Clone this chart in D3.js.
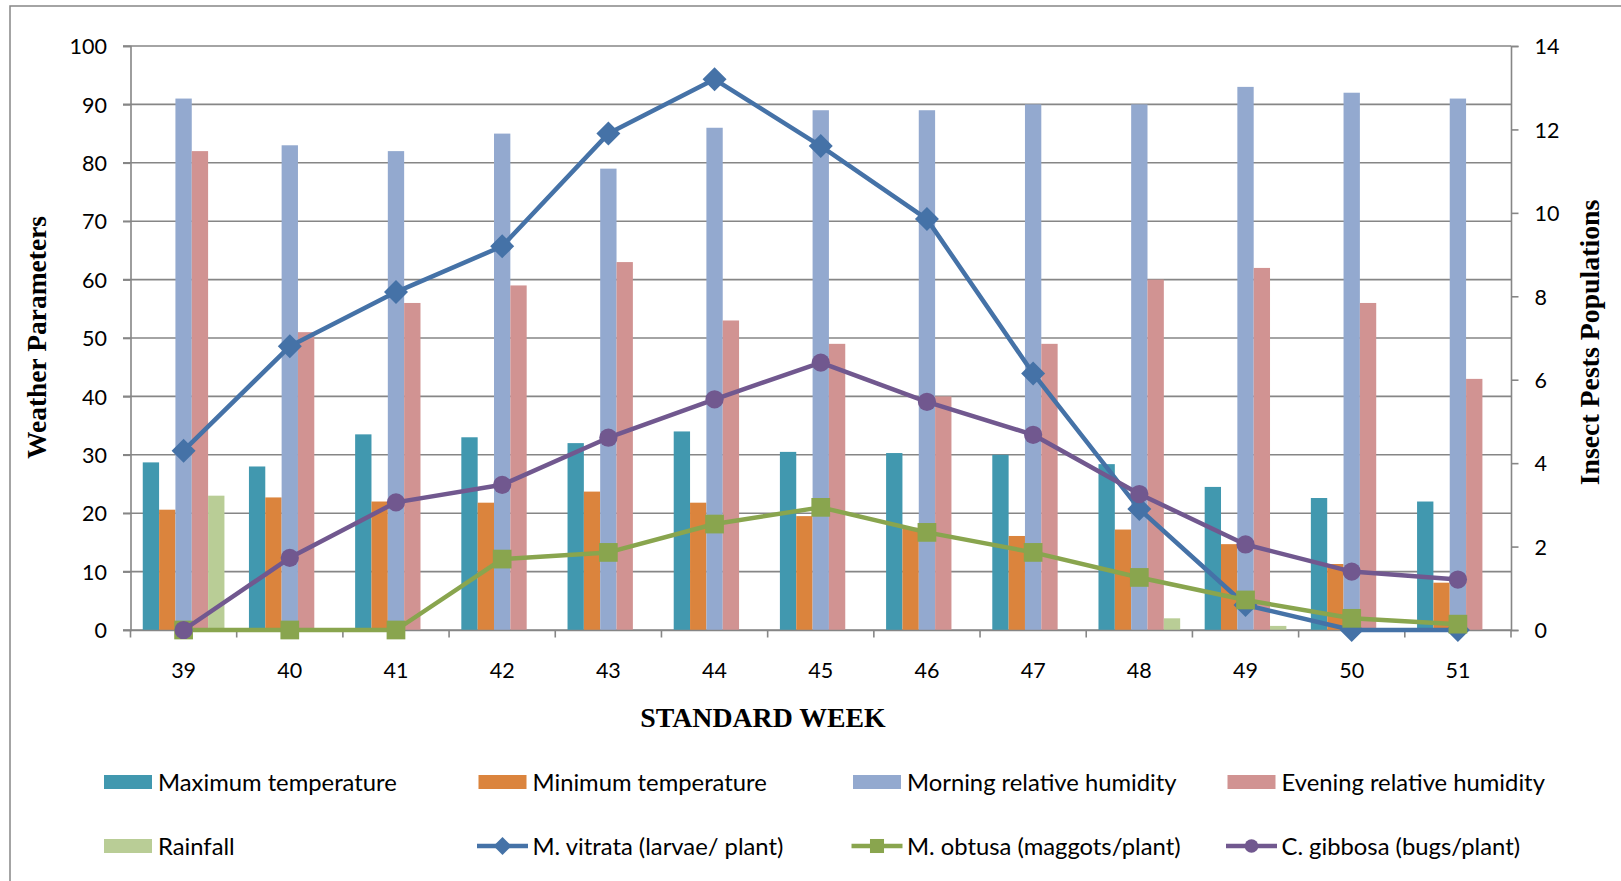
<!DOCTYPE html>
<html>
<head>
<meta charset="utf-8">
<script src="https://cdn.jsdelivr.net/npm/d3@7"></script>
<style>
  html, body { margin: 0; padding: 0; background: #fff; }
  svg { display: block; }
</style>
</head>
<body>
<svg id="chart" width="1621" height="881"></svg>
<script>
// Standard weeks (categories)
const weeks = ["39","40","41","42","43","44","45","46","47","48","49","50","51"];

// Weather parameters (left axis)
const maxTemp   = [28.7, 28.0, 33.5, 33.0, 32.0, 34.0, 30.5, 30.3, 30.0, 28.4, 24.5, 22.6, 22.0];
const minTemp   = [20.6, 22.7, 22.0, 21.8, 23.7, 21.8, 19.5, 17.5, 16.1, 17.2, 14.7, 11.3, 8.1];
const morningRH = [91, 83, 82, 85, 79, 86, 89, 89, 90, 90, 93, 92, 91];
const eveningRH = [82, 51, 56, 59, 63, 53, 49, 40, 49, 60, 62, 56, 43];
const rainfall  = [23, 0, 0, 0, 0, 0, 0, 0, 0, 2.0, 0.7, 0, 0];

// Insect pest populations (right axis)
const vitrata = [4.3, 6.8, 8.1, 9.2, 11.9, 13.2, 11.6, 9.85, 6.15, 2.9, 0.6, 0, 0];
const obtusa  = [0, 0, 0, 1.7, 1.86, 2.54, 2.94, 2.34, 1.86, 1.26, 0.72, 0.28, 0.14];
const gibbosa = [0, 1.73, 3.06, 3.48, 4.61, 5.53, 6.41, 5.47, 4.68, 3.26, 2.05, 1.40, 1.21];

// Axis ticks
const leftTicks  = [0, 10, 20, 30, 40, 50, 60, 70, 80, 90, 100];
const rightTicks = [0, 2, 4, 6, 8, 10, 12, 14];

// Series definitions
const barSeries = [
  { name: "Maximum temperature",        values: maxTemp,   color: "#4198AF" },
  { name: "Minimum temperature",        values: minTemp,   color: "#DB843D" },
  { name: "Morning relative humidity",  values: morningRH, color: "#93A9CF" },
  { name: "Evening relative humidity",  values: eveningRH, color: "#D19392" },
  { name: "Rainfall",                   values: rainfall,  color: "#B9CD96" }
];
const lineSeries = [
  { name: "M. vitrata (larvae/ plant)",    values: vitrata, color: "#4572A7", marker: "diamond" },
  { name: "M. obtusa (maggots/plant)",     values: obtusa,  color: "#89A54E", marker: "square" },
  { name: "C. gibbosa (bugs/plant)",       values: gibbosa, color: "#71588F", marker: "circle" }
];

const svg = d3.select("#chart");
const axisColor = "#868686";
const tickFont = "Lato, 'Open Sans', sans-serif";
const titleFont = "'Liberation Serif', 'Times New Roman', serif";

// Plot area
const plot = { left: 130.5, right: 1511, top: 46, bottom: 630 };

const x = d3.scaleBand().domain(weeks).range([plot.left, plot.right]).paddingInner(0).paddingOuter(0);
const xs = d3.scaleBand().domain(barSeries.map(d => d.name))
  .range([0, x.bandwidth()]).paddingInner(0).paddingOuter(0.75);
const yL = d3.scaleLinear().domain([0, 100]).range([plot.bottom, plot.top]);
const yR = d3.scaleLinear().domain([0, 14]).range([plot.bottom, plot.top]);

// Outer chart frame
svg.append("rect")
  .attr("x", 10).attr("y", 6)
  .attr("width", 1650).attr("height", 920)
  .attr("fill", "none").attr("stroke", axisColor).attr("stroke-width", 1.5);

// Horizontal gridlines
svg.append("g").selectAll("line").data(leftTicks).join("line")
  .attr("x1", plot.left - 7.5).attr("x2", plot.right)
  .attr("y1", d => yL(d)).attr("y2", d => yL(d))
  .attr("stroke", axisColor).attr("stroke-width", 1.6);

// Bars
const barG = svg.append("g");
barSeries.forEach(s => {
  barG.append("g").selectAll("rect").data(weeks).join("rect")
    .attr("x", (w) => x(w) + xs(s.name))
    .attr("width", xs.bandwidth())
    .attr("y", (w, i) => yL(s.values[i]))
    .attr("height", (w, i) => yL(0) - yL(s.values[i]))
    .attr("fill", s.color);
});

// Left axis
const gL = svg.append("g").attr("transform", `translate(${plot.left},0)`)
  .call(d3.axisLeft(yL).tickValues(leftTicks).tickSize(7.5).tickPadding(16));
// Right axis
const gR = svg.append("g").attr("transform", `translate(${plot.right},0)`)
  .call(d3.axisRight(yR).tickValues(rightTicks).tickSize(7.5).tickPadding(16));
// Bottom axis (labels centred in each week)
const gB = svg.append("g").attr("transform", `translate(0,${plot.bottom})`)
  .call(d3.axisBottom(x).tickSize(0).tickPadding(33));

[gL, gR, gB].forEach(g => {
  g.select(".domain").attr("stroke", axisColor).attr("stroke-width", 1.6);
  g.selectAll(".tick line").attr("stroke", axisColor).attr("stroke-width", 1.6);
  g.selectAll(".tick text").attr("fill", "#000")
    .style("font-family", tickFont).style("font-size", "21.5px");
});
gB.selectAll(".tick text").attr("dy", "0.71em");
gL.selectAll(".tick text").attr("dy", "0.36em");
gR.selectAll(".tick text").attr("dy", "0.36em");

// Category boundary tick marks on the bottom axis
svg.append("g").selectAll("line")
  .data(weeks.map(w => x(w)).concat([plot.right]))
  .join("line")
  .attr("x1", d => d).attr("x2", d => d)
  .attr("y1", plot.bottom).attr("y2", plot.bottom + 7.5)
  .attr("stroke", axisColor).attr("stroke-width", 1.6);

// Marker shapes
function drawMarker(g, type, cx, cy, color, size) {
  const h = size / 2;
  if (type === "diamond") {
    g.append("path")
      .attr("d", `M${cx},${cy - h}L${cx + h},${cy}L${cx},${cy + h}L${cx - h},${cy}Z`)
      .attr("fill", color);
  } else if (type === "square") {
    const s = size * 0.78;
    g.append("rect").attr("x", cx - s / 2).attr("y", cy - s / 2)
      .attr("width", s).attr("height", s).attr("fill", color);
  } else {
    g.append("circle").attr("cx", cx).attr("cy", cy).attr("r", size * 0.38).attr("fill", color);
  }
}

// Pest population lines
const lineG = svg.append("g");
lineSeries.forEach(s => {
  const pts = weeks.map((w, i) => [x(w) + x.bandwidth() / 2, yR(s.values[i])]);
  lineG.append("path")
    .attr("d", d3.line()(pts))
    .attr("fill", "none").attr("stroke", s.color)
    .attr("stroke-width", 4.5).attr("stroke-linejoin", "round");
  const mg = lineG.append("g");
  pts.forEach(p => drawMarker(mg, s.marker, p[0], p[1], s.color, 24));
});

// Axis titles
svg.append("text")
  .attr("transform", "translate(46,337.5) rotate(-90)")
  .attr("text-anchor", "middle")
  .style("font-family", titleFont).style("font-weight", "bold").style("font-size", "27.5px")
  .text("Weather Parameters");

svg.append("text")
  .attr("transform", "translate(1599,342.5) rotate(-90)")
  .attr("text-anchor", "middle")
  .style("font-family", titleFont).style("font-weight", "bold").style("font-size", "27.8px")
  .text("Insect Pests Populations");

svg.append("text")
  .attr("x", 763).attr("y", 726.5)
  .attr("text-anchor", "middle")
  .style("font-family", titleFont).style("font-weight", "bold").style("font-size", "27.8px")
  .text("STANDARD WEEK");

// Legend: 4 columns x 2 rows
const legendItems = barSeries.map(s => ({ ...s, kind: "bar" }))
  .concat(lineSeries.map(s => ({ ...s, kind: "line" })));
const colX = [104, 478.5, 853, 1227.5];
const rowY = [782, 846];
const legend = svg.append("g");
legendItems.forEach((item, i) => {
  const cx0 = colX[i % 4];
  const cy = rowY[Math.floor(i / 4)];
  const g = legend.append("g");
  if (item.kind === "bar") {
    g.append("rect").attr("x", cx0).attr("y", cy - 7).attr("width", 48).attr("height", 14)
      .attr("fill", item.color);
  } else {
    g.append("line").attr("x1", cx0 - 1.5).attr("x2", cx0 + 49.5)
      .attr("y1", cy).attr("y2", cy)
      .attr("stroke", item.color).attr("stroke-width", 4.5);
    drawMarker(g, item.marker, cx0 + 24, cy, item.color, 18);
  }
  g.append("text")
    .attr("x", cx0 + 54).attr("y", cy + 8.5)
    .style("font-family", tickFont).style("font-size", "23.8px")
    .attr("fill", "#000")
    .text(item.name);
});
</script>
</body>
</html>
